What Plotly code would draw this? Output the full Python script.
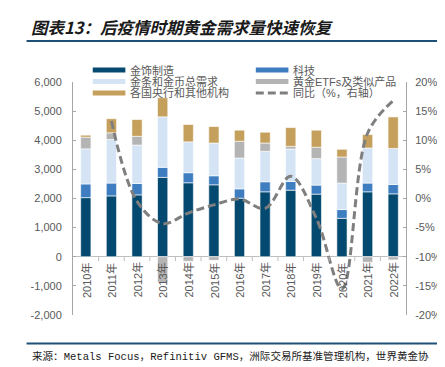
import plotly.graph_objects as go

# ---------------- data ----------------
years = ["2010年", "2011年", "2012年", "2013年", "2014年", "2015年", "2016年",
         "2017年", "2018年", "2019年", "2020年", "2021年", "2022年"]
jewelry = [2030, 2090, 2125, 2725, 2540, 2470, 2010, 2230, 2285, 2150, 1320, 2230, 2160]
technology = [470, 440, 390, 345, 345, 310, 320, 345, 300, 310, 300, 300, 320]
bar_coin = [1205, 1495, 1320, 1735, 1060, 1125, 1060, 1045, 1115, 910, 910, 1205, 1240]
etf = [400, 230, 300, -885, -155, -120, 575, 285, 90, 390, 895, -190, -110]
central_banks = [70, 485, 575, 655, 595, 565, 380, 370, 645, 585, 265, 460, 1080]
yoy_years = years[1:]
yoy = [13.3, -0.5, -4.3, -2.5, -1.1, -0.1, -1.7, 3.8, -3.4, -15.5, 11.2, 16.8]

names = ["金饰制造", "科技", "金条和金币总需求", "黄金ETFs及类似产品", "各国央行和其他机构"]
colors = ["#044A70", "#3E7EC0", "#D4E4F4", "#B4B4B4", "#C4A05C"]
yoy_name = "同比（%，右轴）"
line_color = "#7F7F7F"

left_ticks = [-2000, -1000, 0, 1000, 2000, 3000, 4000, 5000, 6000]
left_ticktext = ["-2,000", "-1,000", "0", "1,000", "2,000", "3,000", "4,000", "5,000", "6,000"]
right_ticks = [-20, -15, -10, -5, 0, 5, 10, 15, 20]
right_ticktext = ["-20%", "-15%", "-10%", "-5%", "0%", "5%", "10%", "15%", "20%"]

title_text = "图表13：后疫情时期黄金需求量快速恢复"
source_text = "来源：Metals Focus，Refinitiv GFMS，洲际交易所基准管理机构，世界黄金协"

# ---------------- layout geometry ----------------
W, H = 445, 367
L, R, T, B = 65, 43, 74, 60
pw, ph = W - L - R, H - T - B


def px_x(px):
    return (px - L) / pw


def px_y(py):
    return (H - B - py) / ph


fig = go.Figure()

series = [jewelry, technology, bar_coin, etf, central_banks]
for name, vals, col in zip(names, series, colors):
    fig.add_trace(go.Bar(x=years, y=vals, name=name, marker_color=col,
                         marker_line=dict(color="white", width=0.6),
                         showlegend=False))

fig.add_trace(go.Scatter(x=yoy_years, y=yoy, yaxis="y2", mode="lines",
                         line=dict(color=line_color, width=3, dash="8px,4px",
                                   shape="spline", smoothing=1),
                         showlegend=False, name=yoy_name))

annotations = []
shapes = []

# x category labels at the zero line
for yr in years:
    annotations.append(dict(x=yr, y=0, xref="x", yref="y", text=yr, showarrow=False,
                            textangle=-90, xanchor="center", yanchor="top", yshift=-4,
                            font=dict(size=11, color="#595959",
                                      family="Liberation Sans, Noto Sans CJK SC")))
for i in range(len(years) - 1):
    shapes.append(dict(type="line", xref="x", yref="y", x0=i + 0.5, x1=i + 0.5,
                       y0=0, y1=-150, line=dict(color="#BFBFBF", width=1)))

# custom legend (two columns, wide swatches)
legend_items = [(names[0], colors[0], 0, 0), (names[1], colors[1], 1, 0),
                (names[2], colors[2], 0, 1), (names[3], colors[3], 1, 1),
                (names[4], colors[4], 0, 2), (yoy_name, line_color, 1, 2)]
col_x = [85, 250]
row_y = [62, 73.5, 85]
for name, col, c, r in legend_items:
    x0 = col_x[c]
    yc = row_y[r]
    if name == yoy_name:
        shapes.append(dict(type="line", xref="paper", yref="paper",
                           x0=px_x(x0), x1=px_x(x0 + 33), y0=px_y(yc), y1=px_y(yc),
                           line=dict(color=col, width=3, dash="8px,4px")))
    else:
        shapes.append(dict(type="rect", xref="paper", yref="paper",
                           x0=px_x(x0), x1=px_x(x0 + 33), y0=px_y(yc - 2.5), y1=px_y(yc + 2.5),
                           line=dict(width=0), fillcolor=col))
    annotations.append(dict(x=px_x(x0 + 36), y=px_y(yc), xref="paper", yref="paper",
                            text=name, showarrow=False, xanchor="left", yanchor="middle",
                            font=dict(size=11, color="#595959",
                                      family="Liberation Sans, Noto Sans CJK SC")))

annotations.append(dict(x=px_x(20), y=px_y(19), xref="paper", yref="paper",
                        text="<b><i>" + title_text + "</i></b>", showarrow=False,
                        xanchor="left", yanchor="middle",
                        font=dict(size=16.5, color="#1A1A1A", family="Noto Sans CJK SC")))
annotations.append(dict(x=px_x(21), y=px_y(348), xref="paper", yref="paper",
                        text=source_text, showarrow=False,
                        xanchor="left", yanchor="middle",
                        font=dict(size=10.55, color="#1A1A1A",
                                  family="Liberation Mono, Noto Sans CJK SC")))

shapes += [
    dict(type="line", xref="paper", yref="paper", x0=px_x(18), x1=px_x(445),
         y0=px_y(33), y1=px_y(33), line=dict(color="#1F5078", width=2)),
    dict(type="line", xref="paper", yref="paper", x0=px_x(18), x1=px_x(445),
         y0=px_y(335.5), y1=px_y(335.5), line=dict(color="#1F5078", width=2)),
]

fig.update_layout(
    width=W, height=H,
    margin=dict(l=L, r=R, t=T, b=B),
    paper_bgcolor="white", plot_bgcolor="white",
    barmode="relative", bargap=0.6,
    font=dict(family="Liberation Sans, Noto Sans CJK SC", size=11, color="#595959"),
    showlegend=False,
    xaxis=dict(type="category", showticklabels=False, ticks="", showgrid=False,
               showline=False, zeroline=False, range=[-0.5, 12.5]),
    yaxis=dict(range=[-2000, 6000], tickvals=left_ticks, ticktext=left_ticktext,
               showgrid=False, showline=True, linecolor="#A6A6A6", linewidth=1,
               ticks="inside", ticklen=3, tickcolor="#A6A6A6",
               zeroline=True, zerolinecolor="#BFBFBF", zerolinewidth=1,
               ticklabelstandoff=8,
               tickfont=dict(size=11, color="#595959")),
    yaxis2=dict(range=[-20, 20], tickvals=right_ticks, ticktext=right_ticktext,
                overlaying="y", side="right", showgrid=False, showline=True,
                linecolor="#A6A6A6", linewidth=1, ticks="inside", ticklen=3,
                tickcolor="#A6A6A6", zeroline=False, ticklabelstandoff=6,
                tickfont=dict(size=11, color="#595959")),
    annotations=annotations,
    shapes=shapes,
)

fig.write_html("out.html")
